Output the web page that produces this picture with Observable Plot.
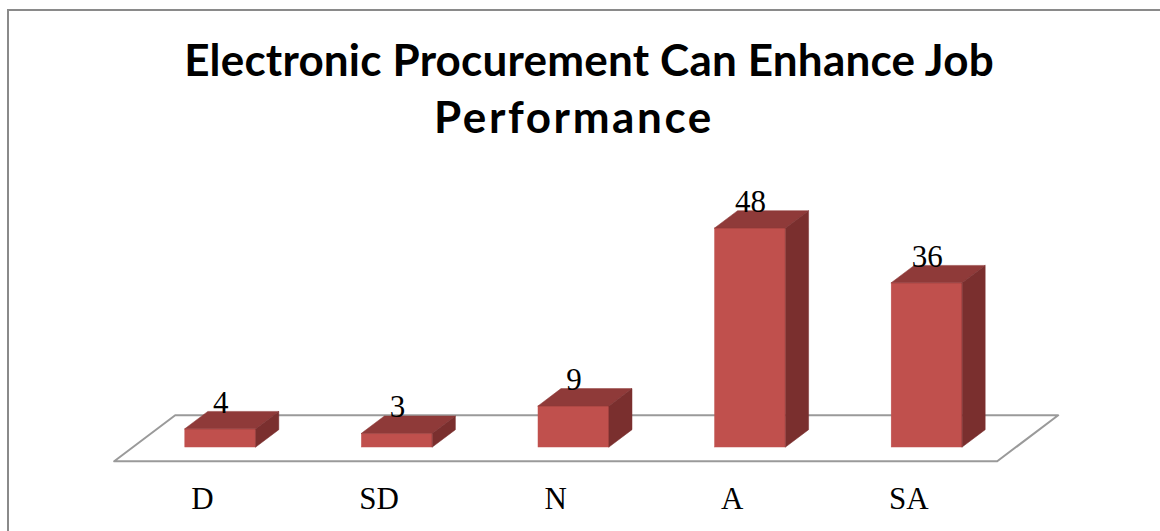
<!DOCTYPE html>
<html>
<head>
<meta charset="utf-8">
<script src="https://cdn.jsdelivr.net/npm/d3@7"></script>
<script src="https://cdn.jsdelivr.net/npm/@observablehq/plot@0.6"></script>
<style>
  html, body { margin: 0; padding: 0; background: #fff; overflow: hidden; width: 1160px; height: 531px; }
  #frame { position: absolute; left: 7px; top: 9px; width: 1300px; height: 700px; border: 2px solid #8a8a8a; box-sizing: border-box; }
  .title { position: absolute; width: 1160px; text-align: center; font-family: Lato, "Open Sans", sans-serif; font-weight: 700; font-size: 44px; color: #000; line-height: 1; white-space: nowrap; }
  #chart { position: absolute; left: 0; top: 0; }
</style>
</head>
<body>
<div id="frame"></div>
<div id="chart"></div>
<div class="title" id="t1" style="left:9px; top:37px; letter-spacing:0.2px;">Electronic Procurement Can Enhance Job</div>
<div class="title" id="t2" style="left:-6px; top:94px; letter-spacing:2.6px;">Performance</div>
<script>
// Survey responses
const categories = ["D", "SD", "N", "A", "SA"];
const counts = [4, 3, 9, 48, 36];

// Oblique projection of the depth axis, in data units per unit of depth
const DX = 0.3454;   // horizontal shift (category units)
const DY = 10.08;    // vertical shift (count units)
const barDepth = 0.377;
const half = 0.201;  // half bar width
const floorFront = -0.3, floorBack = 0.7;

const colors = {front: "#C0504D", top: "#8F3A39", side: "#7A2F2E"};

const bars = categories.map((c, i) => ({cat: c, i, v: counts[i]}));

// Top faces: parallelograms with horizontal edges
const tops = bars.flatMap(b => [
  {cat: b.cat, y: b.v, x1: b.i - half, x2: b.i + half},
  {cat: b.cat, y: b.v + barDepth * DY, x1: b.i - half + barDepth * DX, x2: b.i + half + barDepth * DX}
]);
// Side faces: parallelograms with vertical edges
const sides = bars.flatMap(b => [
  {cat: b.cat, x: b.i + half, y1: 0, y2: b.v},
  {cat: b.cat, x: b.i + half + barDepth * DX, y1: barDepth * DY, y2: b.v + barDepth * DY}
]);
// Floor outline
const n = categories.length;
const floor = [
  {x: -0.5 + floorFront * DX, y: floorFront * DY},
  {x: n - 0.5 + floorFront * DX, y: floorFront * DY},
  {x: n - 0.5 + floorBack * DX, y: floorBack * DY},
  {x: -0.5 + floorBack * DX, y: floorBack * DY},
  {x: -0.5 + floorFront * DX, y: floorFront * DY}
];

const chart = Plot.plot({
  width: 1160,
  height: 531,
  marginLeft: 0, marginRight: 0, marginTop: 0, marginBottom: 0,
  x: {domain: [-0.5, n - 0.5], range: [132, 1015], axis: null},
  y: {domain: [0, 48], range: [447, 228], axis: null},
  style: {background: "transparent"},
  marks: [
    Plot.line(floor, {x: "x", y: "y", stroke: "#9a9a9a", strokeWidth: 2}),
    Plot.rect(bars, {x1: d => d.i - half, x2: d => d.i + half, y1: 0, y2: "v", fill: colors.front, stroke: colors.front, strokeWidth: 0.5}),
    Plot.areaX(tops, {y: "y", x1: "x1", x2: "x2", z: "cat", fill: colors.top, stroke: colors.top, strokeWidth: 0.5}),
    Plot.areaY(sides, {x: "x", y1: "y1", y2: "y2", z: "cat", fill: colors.side, stroke: colors.side, strokeWidth: 0.5}),
    Plot.text(bars, {x: "i", y: d => d.v + barDepth * DY, text: d => String(d.v), lineAnchor: "bottom", dy: 1, fontFamily: "Liberation Serif", fontSize: 31, fill: "#000"}),
    Plot.text(bars, {x: d => d.i + floorFront * DX, y: floorFront * DY, text: "cat", lineAnchor: "bottom", dy: 48, fontFamily: "Liberation Serif", fontSize: 31, fill: "#000"})
  ]
});
document.getElementById("chart").append(chart);
</script>
</body>
</html>
